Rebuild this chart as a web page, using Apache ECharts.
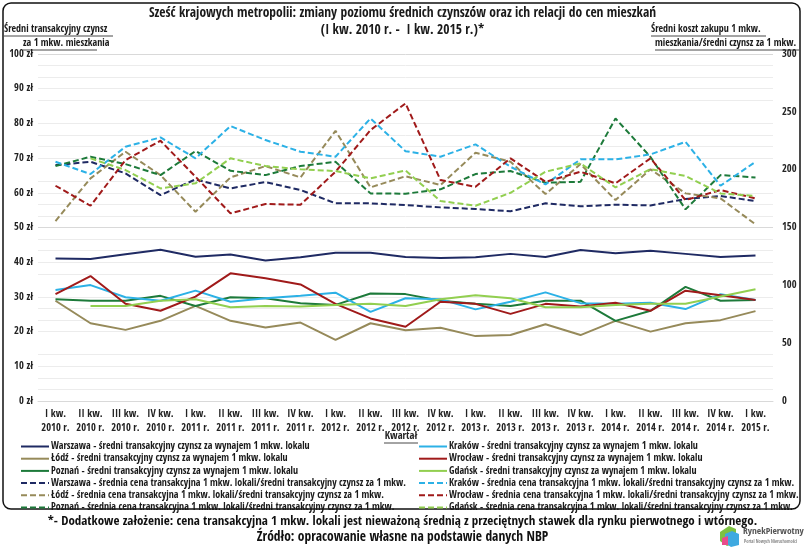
<!DOCTYPE html>
<html><head><meta charset="utf-8">
<script src="https://cdn.jsdelivr.net/npm/echarts@6/dist/echarts.min.js"></script>
<style>html,body{margin:0;padding:0;background:#fff}#c{width:805px;height:551px}</style>
</head><body><div id="c"></div>
<script>
const categories = ['I kw.\n2010 r.','II kw.\n2010 r.','III kw.\n2010 r.','IV kw.\n2010 r.',
'I kw.\n2011 r.','II kw.\n2011 r.','III kw.\n2011 r.','IV kw.\n2011 r.',
'I kw.\n2012 r.','II kw.\n2012 r.','III kw.\n2012 r.','IV kw.\n2012 r.',
'I kw.\n2013 r.','II kw.\n2013 r.','III kw.\n2013 r.','IV kw.\n2013 r.',
'I kw.\n2014 r.','II kw.\n2014 r.','III kw.\n2014 r.','IV kw.\n2014 r.','I kw.\n2015 r.'];

const rentWarszawa = [41.1,40.9,42.3,43.6,41.6,42.2,40.5,41.4,42.7,42.7,41.5,41.2,41.4,42.4,41.5,43.5,42.6,43.3,42.4,41.5,41.9];
const rentKrakow   = [32.0,33.4,29.9,28.9,31.8,28.6,29.6,30.3,31.2,25.7,29.6,29.3,26.4,28.6,31.3,28.2,28.0,28.3,26.5,30.8,29.1];
const rentLodz     = [28.9,22.4,20.5,23.1,27.4,23.1,21.2,22.6,17.6,22.4,20.4,21.1,18.7,19.0,22.1,19.0,23.1,20.0,22.4,23.3,25.9];
const rentWroclaw  = [30.8,36.0,28.0,26.0,30.1,36.8,35.4,33.6,28.0,23.8,21.4,28.6,28.0,25.1,28.0,27.2,28.3,26.0,31.8,30.5,29.1];
const rentPoznan   = [29.3,28.9,28.9,30.3,27.4,29.9,29.6,28.2,27.7,31.0,30.8,28.9,28.0,27.4,28.9,28.9,23.1,26.0,32.9,28.9,29.1];
const rentGdansk   = [null,27.4,27.4,28.9,29.3,27.0,27.4,27.2,27.7,28.0,27.4,29.3,30.5,29.6,27.0,27.0,27.7,28.0,28.0,30.1,32.2];

const ratioWarszawa = [204,206.8,196.8,178,191.6,183.8,189.3,182.4,170.9,170.9,169.4,167.4,166,164,170.9,168.3,169.7,169.1,174.6,177.2,172.9];
const ratioKrakow   = [206.8,196.2,219.8,227.9,209.8,237.7,225.6,215.5,211.2,244.3,216,211.2,221.9,202.5,187.3,208.9,208.9,213.2,224.1,186.1,206.8];
const ratioLodz     = [155.6,192.5,215.5,195.3,163.6,193.3,203.1,193.3,233.6,184.7,194.3,186.7,214.6,206.8,178.9,204.8,173.7,200.3,179.5,175.2,152.7];
const ratioWroclaw  = [186.1,168.8,208.3,225,193.9,162.2,170.3,169.7,198.2,234.2,257.3,191,185.2,209.8,189.5,198.2,188.2,209.8,173.7,182.4,175.2];
const ratioPoznan   = [203.1,211.2,204.8,195.3,216.1,199,195.3,203.1,206.8,179.5,179.2,183,196.2,198.8,188.7,189.5,244.3,211,165.7,195.3,193.3];
const ratioGdansk   = [null,209.8,199.7,183.8,188.2,209.8,203.1,200.3,198.8,192.5,199.3,172.9,168.8,180,198.2,205.4,184.7,200.5,194.5,179.5,177.2];

const leftTicks = [0,10,20,30,40,50,60,70,80,90,100];
const rightTicks = [0,50,100,150,200,250,300];

const FONT = '"Open Sans Condensed","Roboto Condensed",sans-serif';
const C = {waw:'#1f2a63', krk:'#2cb1e6', lodz:'#968a5a', wro:'#a01a1a', poz:'#1d7a3a', gda:'#92cf50'};

const nameRent = c => c + ' - średni transakcyjny czynsz za wynajem 1 mkw. lokalu';
const nameRatio = c => c + ' - średnia cena transakcyjna 1 mkw. lokali/średni transakcyjny czynsz za 1 mkw.';

function rent(city, data, color){
  return {name:nameRent(city), type:'line', yAxisIndex:0, data:data, symbol:'none',
    lineStyle:{color:color, width:2}, itemStyle:{color:color}, connectNulls:false, z:3};
}
function ratio(city, data, color){
  return {name:nameRatio(city), type:'line', yAxisIndex:1, data:data, symbol:'none',
    lineStyle:{color:color, width:2, type:[6,3]}, itemStyle:{color:color}, z:2};
}

const series = [
  rent('Warszawa', rentWarszawa, C.waw),
  rent('Łódź', rentLodz, C.lodz),
  rent('Poznań', rentPoznan, C.poz),
  ratio('Warszawa', ratioWarszawa, C.waw),
  ratio('Łódź', ratioLodz, C.lodz),
  ratio('Poznań', ratioPoznan, C.poz),
  rent('Kraków', rentKrakow, C.krk),
  rent('Wrocław', rentWroclaw, C.wro),
  rent('Gdańsk', rentGdansk, C.gda),
  ratio('Kraków', ratioKrakow, C.krk),
  ratio('Wrocław', ratioWroclaw, C.wro),
  ratio('Gdańsk', ratioGdansk, C.gda)
];

const legendCommon = {orient:'vertical', itemGap:2.2, itemWidth:28, itemHeight:9, padding:0,
  itemStyle:{opacity:0},
  textStyle:{fontFamily:FONT, fontSize:10, fontWeight:'bold', color:'#1a1a1a', padding:[0,0,0,-3]}, selectedMode:false};

const chart = echarts.init(document.getElementById('c'), null, {renderer:'canvas'});
chart.setOption({
  animation:false,
  textStyle:{fontFamily:FONT},
  grid:{left:38, right:32, top:54, bottom:150},
  legend:[
    Object.assign({left:20, top:441.5, data:series.slice(0,6).map(s=>s.name)}, legendCommon),
    Object.assign({left:418, top:441.5, data:series.slice(6).map(s=>s.name)}, legendCommon)
  ],
  xAxis:{type:'category', data:categories, boundaryGap:true,
    axisLine:{show:true, lineStyle:{color:'#d9d9d9'}}, axisTick:{show:false},
    axisLabel:{interval:0, fontFamily:FONT, fontWeight:'bold', fontSize:10.5, color:'#222', lineHeight:14, margin:6}},
  yAxis:[
    {type:'value', min:0, max:100, interval:10, position:'left',
     axisLabel:{formatter:v=>v+' zł', fontFamily:FONT, fontWeight:'bold', fontSize:10.5, color:'#222', margin:5},
     axisLine:{show:false}, axisTick:{show:false},
     splitLine:{show:true, lineStyle:{color:'#d9d9d9', width:1}}},
    {type:'value', min:0, max:300, interval:50, position:'right',
     axisLabel:{fontFamily:FONT, fontWeight:'bold', fontSize:10.5, color:'#222', margin:9},
     axisLine:{show:false}, axisTick:{show:false},
     splitLine:{show:false},
     minorTick:{show:false, splitNumber:5},
     minorSplitLine:{show:true, lineStyle:{color:'#ececec', width:1}}}
  ],
  series:series,
  graphic:[
    {type:'rect', shape:{x:3, y:3, width:797, height:506, r:8}, style:{fill:'none', stroke:'#111', lineWidth:1.5}, z:-1},
    {type:'text', left:'center', top:6, style:{text:'Sześć krajowych metropolii: zmiany poziomu średnich czynszów oraz ich relacji do cen mieszkań', font:'bold 13.5px '+FONT, fill:'#1a1a1a'}},
    {type:'text', left:'center', top:23, style:{text:'(I kw. 2010 r. -  I kw. 2015 r.)*', font:'bold 13.5px '+FONT, fill:'#1a1a1a'}},
    {type:'text', x:4, y:24, style:{text:'Średni transakcyjny czynsz', font:'bold 10px '+FONT, fill:'#1a1a1a'}},
    {type:'text', x:23, y:38, style:{text:'za 1 mkw. mieszkania', font:'bold 10px '+FONT, fill:'#1a1a1a'}},
    {type:'text', x:651, y:24, style:{text:'Średni koszt zakupu 1 mkw.', font:'bold 10px '+FONT, fill:'#1a1a1a'}},
    {type:'text', x:655, y:38, style:{text:'mieszkania/średni czynsz za 1 mkw.', font:'bold 10px '+FONT, fill:'#1a1a1a'}},
    {type:'line', shape:{x1:4, y1:36, x2:113, y2:36}, style:{stroke:'#1a1a1a', lineWidth:0.8}},
    {type:'line', shape:{x1:23, y1:50, x2:97, y2:50}, style:{stroke:'#1a1a1a', lineWidth:0.8}},
    {type:'line', shape:{x1:651, y1:36, x2:766, y2:36}, style:{stroke:'#1a1a1a', lineWidth:0.8}},
    {type:'line', shape:{x1:655, y1:50, x2:799, y2:50}, style:{stroke:'#1a1a1a', lineWidth:0.8}},
    {type:'text', x:401, y:431, style:{text:'Kwartał', font:'bold 10.5px '+FONT, fill:'#222', textAlign:'center'}},
    {type:'line', shape:{x1:384, y1:443, x2:418, y2:443}, style:{stroke:'#1a1a1a', lineWidth:0.8}},
    {type:'text', left:'center', top:515, style:{text:'*- Dodatkowe założenie: cena transakcyjna 1 mkw. lokali jest nieważoną średnią z przeciętnych stawek dla rynku pierwotnego i wtórnego.', font:'bold 13px '+FONT, fill:'#111'}},
    {type:'text', left:'center', top:530, style:{text:'Źródło: opracowanie własne na podstawie danych NBP', font:'bold 13.5px '+FONT, fill:'#111'}},
    {type:'group', left:720, top:526, children:[
      {type:'polygon', shape:{points:[[0,6],[9,0],[16,3],[16,17],[7,20],[0,15]]}, style:{fill:'#7dc242'}},
      {type:'polygon', shape:{points:[[5,8],[12,5],[19,8],[19,19],[11,21],[5,17]]}, style:{fill:'#3fa9e0'}},
      {type:'polygon', shape:{points:[[2,12],[8,10],[8,19],[2,19]]}, style:{fill:'#e84c8b'}},
      {type:'text', x:23, y:1, style:{text:'RynekPierwotny', font:'9.5px '+FONT, fill:'#555'}},
      {type:'text', x:24, y:13, style:{text:'Portal Nowych Nieruchomości', font:'4.5px '+FONT, fill:'#888'}}
    ]}
  ]
});
</script></body></html>
